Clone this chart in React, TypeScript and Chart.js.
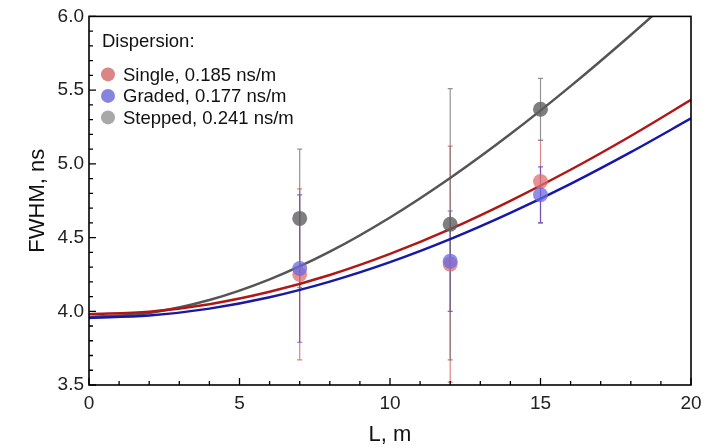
import React, { useEffect, useRef } from "react";
import { Chart, registerables } from "chart.js";
Chart.register(...registerables);

// Measured points
const lengths = [7, 12, 15];
const seriesNames = ["Single, 0.185 ns/m", "Graded, 0.177 ns/m", "Stepped, 0.241 ns/m"];
const singleFWHM = [4.25, 4.32, 4.88];
const singleErr = [0.58, 0.8, 0.28];
const gradedFWHM = [4.29, 4.34, 4.79];
const gradedErr = [0.5, 0.34, 0.19];
const steppedFWHM = [4.63, 4.59, 5.37];
const steppedErr = [0.47, 0.92, 0.21];

// Fit curves
const fitL = [0, 2, 4, 6, 8, 10, 12, 14, 16, 18, 20];
const singleFit = [3.98, 3.997, 4.048, 4.132, 4.246, 4.389, 4.557, 4.749, 4.96, 5.189, 5.434];
const gradedFit = [3.955, 3.971, 4.018, 4.095, 4.201, 4.333, 4.489, 4.667, 4.864, 5.079, 5.308];
const steppedFit = [3.96, 3.989, 4.076, 4.216, 4.404, 4.636, 4.904, 5.202, 5.527, 5.874, 6.238];

// Axis ticks
const xTicks = [0, 5, 10, 15, 20];
const yTicks = [3.5, 4.0, 4.5, 5.0, 5.5, 6.0];

const FONT = "'Liberation Sans', Arial, Helvetica, sans-serif";

const pointColors = ["rgba(222,110,110,0.75)", "rgba(105,105,225,0.75)", "rgba(95,95,95,0.8)"];
const legendColors = ["#dc8585", "#8585dd", "#a8a8a8"];
const errColors = ["rgba(210,90,90,0.75)", "rgba(90,70,190,0.8)", "rgba(110,110,110,0.75)"];
const lineColors = ["#b01818", "#1818a8", "#555555"];

export default function App() {
  const ref = useRef<HTMLCanvasElement | null>(null);

  useEffect(() => {
    const canvas = ref.current;
    if (!canvas) return;
    const values = [singleFWHM, gradedFWHM, steppedFWHM];
    const errs = [singleErr, gradedErr, steppedErr];
    const fits = [singleFit, gradedFit, steppedFit];

    const pointSets = values.map((vals, i) => ({
      type: "scatter" as const,
      label: seriesNames[i],
      data: lengths.map((l, j) => ({ x: l, y: vals[j] })),
      backgroundColor: pointColors[i],
      borderWidth: 0,
      pointRadius: 7.5,
      order: i === 2 ? 3 : i === 0 ? 2 : 1,
      errs: errs[i],
      errColor: errColors[i],
      legendColor: legendColors[i],
    }));
    const lineSets = fits.map((f, i) => ({
      type: "line" as const,
      label: "fit" + i,
      data: fitL.map((l, j) => ({ x: l, y: f[j] })),
      borderColor: lineColors[i],
      borderWidth: 2.5,
      pointRadius: 0,
      fill: false,
      cubicInterpolationMode: "monotone" as const,
      order: 10 + i,
    }));

    const errorBars = {
      id: "errorBars",
      beforeDatasetsDraw(chart: any) {
        const { ctx, chartArea, scales } = chart;
        ctx.save();
        ctx.beginPath();
        ctx.rect(chartArea.left, chartArea.top, chartArea.right - chartArea.left, chartArea.bottom - chartArea.top);
        ctx.clip();
        chart.data.datasets.forEach((ds: any) => {
          if (!ds.errs) return;
          ctx.strokeStyle = ds.errColor;
          ctx.lineWidth = 1.2;
          ds.data.forEach((p: any, j: number) => {
            const x = scales.x.getPixelForValue(p.x);
            const y1 = scales.y.getPixelForValue(p.y - ds.errs[j]);
            const y2 = scales.y.getPixelForValue(p.y + ds.errs[j]);
            ctx.beginPath();
            ctx.moveTo(x, y1);
            ctx.lineTo(x, y2);
            ctx.moveTo(x - 2.5, y1);
            ctx.lineTo(x + 2.5, y1);
            ctx.moveTo(x - 2.5, y2);
            ctx.lineTo(x + 2.5, y2);
            ctx.stroke();
          });
        });
        ctx.restore();
      },
    };

    const frameTicks = {
      id: "frameTicks",
      afterDraw(chart: any) {
        const { ctx, chartArea, scales } = chart;
        const { left, right, top, bottom } = chartArea;
        ctx.save();
        ctx.strokeStyle = "#000";
        ctx.lineWidth = 1.6;
        ctx.strokeRect(left, top, right - left, bottom - top);
        ctx.lineWidth = 1.3;
        ctx.beginPath();
        const xs = scales.x, ys = scales.y;
        for (let v = xs.min; v <= xs.max + 1e-9; v += 1) {
          const px = xs.getPixelForValue(v);
          const major = Math.abs(v / 5 - Math.round(v / 5)) < 1e-6;
          ctx.moveTo(px, bottom);
          ctx.lineTo(px, bottom - (major ? 7 : 4));
        }
        for (let k = 0; k <= Math.round((ys.max - ys.min) / 0.1); k++) {
          const v = ys.min + k * 0.1;
          const py = ys.getPixelForValue(v);
          const major = k % 5 === 0;
          ctx.moveTo(left, py);
          ctx.lineTo(left + (major ? 7 : 4), py);
        }
        ctx.stroke();

        // legend
        ctx.fillStyle = "#111";
        ctx.font = `18.5px ${FONT}`;
        ctx.textAlign = "left";
        ctx.textBaseline = "alphabetic";
        ctx.fillText("Dispersion:", left + 13, top + 30.5);
        const items = chart.data.datasets.filter((d: any) => d.errs);
        items.forEach((d: any, i: number) => {
          const cy = top + 58 + i * 21.5;
          ctx.fillStyle = d.legendColor;
          ctx.beginPath();
          ctx.arc(left + 19, cy, 7, 0, Math.PI * 2);
          ctx.fill();
          ctx.fillStyle = "#111";
          ctx.fillText(d.label, left + 34, cy + 6.3);
        });
        ctx.restore();
      },
    };

    const chart = new Chart(canvas, {
      type: "scatter",
      data: { datasets: [...pointSets, ...lineSets] as any },
      options: {
        animation: false,
        responsive: false,
        devicePixelRatio: 1,
        layout: { padding: { left: 0, top: 12, right: 18, bottom: 0 } },
        plugins: { legend: { display: false }, tooltip: { enabled: false } },
        scales: {
          x: {
            type: "linear",
            min: 0,
            max: 20,
            afterFit: (s: any) => { s.height = 63; },
            afterBuildTicks: (s: any) => { s.ticks = xTicks.map((v) => ({ value: v })); },
            grid: { display: false, drawTicks: false },
            border: { display: false },
            ticks: { color: "#222", font: { size: 19, family: FONT }, padding: 7, callback: (v: any) => String(v) },
            title: { display: true, text: "L, m", color: "#111", font: { size: 22, family: FONT }, padding: { top: 0, bottom: 0 } },
          },
          y: {
            type: "linear",
            min: 3.5,
            max: 6.0,
            afterFit: (s: any) => { s.width = 89; },
            afterBuildTicks: (s: any) => { s.ticks = yTicks.map((v) => ({ value: v })); },
            grid: { display: false, drawTicks: false },
            border: { display: false },
            ticks: { color: "#222", font: { size: 19, family: FONT }, padding: 5, callback: (v: any) => Number(v).toFixed(1) },
            title: { display: true, text: "FWHM, ns", color: "#111", font: { size: 22, family: FONT }, padding: { top: 25, bottom: 0 } },
          },
        },
      },
      plugins: [errorBars, frameTicks],
    });
    return () => chart.destroy();
  }, []);

  return (
    <div style={{ position: "absolute", left: 0, top: 0, width: 709, height: 448, background: "#fff" }}>
      <canvas ref={ref} width={709} height={448} style={{ width: 709, height: 448, display: "block" }} />
    </div>
  );
}
